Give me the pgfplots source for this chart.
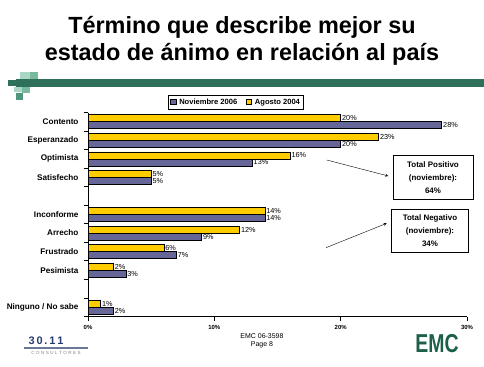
\documentclass[border=0pt]{standalone}
\usepackage{pgfplots}
\pgfplotsset{compat=1.18}
\usepackage{fontspec}
\setmainfont{Liberation Sans}
\definecolor{barY}{RGB}{255,204,0}
\definecolor{barP}{RGB}{102,102,153}
\definecolor{bandG}{RGB}{46,112,90}
\definecolor{sqA}{RGB}{120,185,160}
\definecolor{sqB}{RGB}{170,215,195}
\definecolor{sqC}{RGB}{80,150,125}
\definecolor{emcG}{RGB}{30,95,75}
\definecolor{logoB}{RGB}{40,60,110}
\begin{document}
\begin{tikzpicture}
\useasboundingbox (0,0) rectangle (484bp,-367bp);
% title
\node[anchor=base] at (242bp,-33bp) {\fontsize{23.5}{27}\selectfont\bfseries Término que describe mejor su};
\node[anchor=base] at (242bp,-60bp) {\fontsize{23.5}{27}\selectfont\bfseries estado de ánimo en relación al país};
% band
\fill[bandG] (16bp,-79bp) rectangle (484bp,-87bp);
\fill[sqB] (20bp,-72bp) rectangle (30bp,-79bp);
\fill[sqA] (30bp,-72bp) rectangle (38bp,-79bp);
\fill[bandG] (8bp,-80bp) rectangle (16bp,-86bp);
\fill[sqA] (22bp,-87bp) rectangle (30bp,-93bp);
\fill[sqC] (16bp,-93bp) rectangle (23bp,-100bp);
\fill[sqB] (14bp,-87bp) rectangle (22bp,-92bp);
\begin{axis}[
  at={(88bp,-316.5bp)}, anchor=south west,
  scale only axis, width=379bp, height=204bp,
  xbar, bar width=7bp,
  xmin=0, xmax=30, ymin=-0.5, ymax=10.5, y dir=reverse,
  axis x line*=bottom, axis y line*=left,
  axis line style={line width=0.8bp},
  xtick={0,10,20,30},
  xticklabel={\pgfmathprintnumber{\tick}\%},
  x tick label style={font=\bfseries\fontsize{6}{6}\selectfont, yshift=-1bp},
  x tick style={line width=0.8bp, black},
  tick align=outside, major tick length=4bp,
  ytick={0,1,2,3,5,6,7,8,10},
  yticklabels={Contento,Esperanzado,Optimista,Satisfecho,Inconforme,Arrecho,Frustrado,Pesimista,Ninguno / No sabe},
  y tick style={draw=none},
  y tick label style={font=\bfseries\fontsize{8.2}{8.2}\selectfont, xshift=-2bp},
  extra y ticks={-0.5,0.5,1.5,2.5,3.5,4.5,5.5,6.5,7.5,8.5,9.5,10.5},
  extra y tick labels={},
  extra y tick style={y tick style={draw=black, line width=0.8bp}, major tick length=4bp},
  /pgf/number format/assume math mode=true,
  nodes near coords={\pgfmathprintnumber{\pgfplotspointmeta}\%},
  every node near coord/.append style={font=\fontsize{7.3}{7.3}\selectfont, inner sep=1.2bp},
  legend style={at={(0.211,1.086)}, anchor=north west, legend columns=2,
    font=\bfseries\fontsize{7.6}{8}\selectfont, draw=black, inner sep=1.5bp},
  legend image code/.code={\draw[#1, draw=black, line width=0.5bp] (0bp,-2.5bp) rectangle (5.5bp,3bp);
     \path (-0.5bp,0bp) (6.5bp,0bp);},
  clip=false,
]
\addplot[fill=barP, draw=black, line width=0.6bp, bar shift=-3.5bp] coordinates {
 (28,0) (20,1) (13,2) (5,3) (14,5) (9,6) (7,7) (3,8) (2,10)};
\addlegendentry{Noviembre 2006\hspace*{6bp}\mbox{}}
\addplot[fill=barY, draw=black, line width=0.6bp, bar shift=3.5bp] coordinates {
 (20,0) (23,1) (16,2) (5,3) (14,5) (12,6) (6,7) (2,8) (1,10)};
\addlegendentry{Agosto 2004}
\end{axis}
% annotation boxes
\node[draw=black, line width=0.7bp, fill=white, align=center, minimum width=80bp, minimum height=44bp, font=\bfseries\fontsize{8}{13}\selectfont] at (433bp,-177.5bp) {Total Positivo\\(noviembre):\\64\%};
\node[draw=black, line width=0.7bp, fill=white, align=center, minimum width=77bp, minimum height=43bp, font=\bfseries\fontsize{8}{13}\selectfont] at (430bp,-230.5bp) {Total Negativo\\(noviembre):\\34\%};
\draw[-stealth, line width=0.4bp] (326.7bp,-160bp) -- (388.3bp,-176bp);
\draw[-stealth, line width=0.4bp] (326bp,-247.7bp) -- (386.7bp,-223.3bp);
% footer
\node[font=\fontsize{7}{8}\selectfont, align=center] at (262bp,-341bp) {EMC 06-3598\\Page 8};
\node[font=\bfseries\fontsize{11}{11}\selectfont, text=logoB] at (46bp,-341bp) {3\,0\,.\,1\,1};
\fill[logoB!70] (24bp,-347bp) rectangle (88bp,-348.5bp);
\node[font=\fontsize{4.5}{5}\selectfont, text=gray] at (56bp,-352.5bp) {C\,\,O\,\,N\,\,S\,\,U\,\,L\,\,T\,\,O\,\,R\,\,E\,\,S};
\node[font=\bfseries\fontsize{26}{26}\selectfont, text=emcG, xscale=0.75] at (437bp,-344bp) {EMC};
\end{tikzpicture}
\end{document}
